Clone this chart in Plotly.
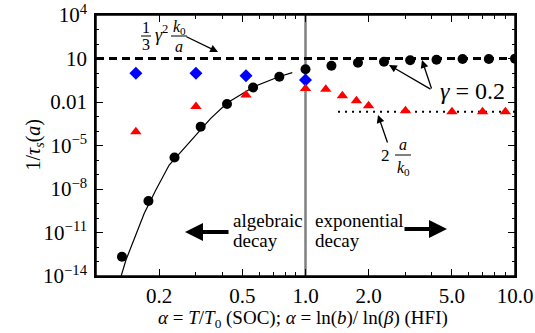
import plotly.graph_objects as go

# ---------------- data ----------------
circ_x = [0.133, 0.178, 0.237, 0.316, 0.422, 0.562, 0.75, 1.0,
          1.33, 1.78, 2.37, 3.16, 4.22, 5.62, 7.5, 10.0]
circ_y = [2.1e-13, 1.5e-9, 1.5e-6, 2.0e-4, 7.2e-3, 0.10, 0.55, 1.8,
          3.2, 5.1, 6.0, 7.6, 8.3, 9.3, 9.3, 9.8]

diam_x = [0.155, 0.30, 0.52, 1.0]
diam_y = [0.95, 0.95, 0.65, 0.33]

tri_x = [0.155, 0.30, 0.52, 1.0, 1.25, 1.5, 1.75, 2.0, 3.0, 5.0, 7.0, 9.0]
tri_y = [8.9e-5, 4.8e-3, 0.030, 0.087, 0.076, 0.027, 0.0123, 0.0055,
         0.0025, 0.0021, 0.0021, 0.0021]

fit_x = [0.1315, 0.139, 0.170, 0.193, 0.2235, 0.259, 0.353, 0.424, 0.567, 0.746, 0.865]
fit_y = [8.9e-15, 1.26e-13, 2.1e-10, 8.5e-9, 4.5e-7, 4.9e-6, 7.5e-4, 8.9e-3, 0.114, 0.55, 1.05]

upper_x = [0.1, 10.0]
upper_y = [10.0, 10.0]

lower_x = [1.43, 10.0]
lower_y = [0.0021, 0.0021]

vline_x = [1.0, 1.0]
vline_y = [1e-14, 1e4]

x_tickvals = [0.2, 0.5, 1, 2, 5, 10]
x_ticktext = ["0.2", "0.5", "1.0", "2.0", "5.0", "10.0"]
x_minor = [0.3, 0.4, 0.6, 0.7, 0.8, 0.9, 3, 4, 6, 7, 8, 9]
y_tickvals = [1e4, 10, 0.01, 1e-5, 1e-8, 1e-11, 1e-14]
y_ticktext = ["10<sup>4</sup>", "10", "0.01", "10<sup>\u22125</sup>",
              "10<sup>\u22128</sup>", "10<sup>\u221211</sup>", "10<sup>\u221214</sup>"]
y_minor = [1e3, 1e2, 1, 0.1, 1e-3, 1e-4, 1e-6, 1e-7, 1e-9, 1e-10, 1e-12, 1e-13]

FONT = "Liberation Serif"

# plot area in pixels
L, R, T, B = 96, 515, 15, 276
W, H = 535, 333


def P(px, py):
    return (px - L) / (R - L), (B - py) / (B - T)


fig = go.Figure()

fig.add_trace(go.Scatter(x=vline_x, y=vline_y, mode="lines",
                         line=dict(color="#808080", width=2.5), hoverinfo="skip"))
fig.add_trace(go.Scatter(x=upper_x, y=upper_y, mode="lines",
                         line=dict(color="black", width=3, dash="8px,5px")))
fig.add_trace(go.Scatter(x=lower_x, y=lower_y, mode="lines",
                         line=dict(color="black", width=2, dash="2px,5px")))
fig.add_trace(go.Scatter(x=fit_x, y=fit_y, mode="lines",
                         line=dict(color="black", width=1.2)))
fig.add_trace(go.Scatter(x=circ_x, y=circ_y, mode="markers",
                         marker=dict(symbol="circle", size=10, color="black")))
fig.add_trace(go.Scatter(x=diam_x, y=diam_y, mode="markers",
                         marker=dict(symbol="diamond", size=10, color="#0000ff")))
fig.add_trace(go.Scatter(x=tri_x, y=tri_y, mode="markers",
                         marker=dict(symbol="triangle-up", size=10, color="#ff0000")))

ann = []
shapes = [dict(type="rect", xref="paper", yref="paper", x0=0, x1=1, y0=0, y1=1,
               line=dict(color="black", width=1.5), layer="above")]


def text(px, py, s, size=18, xanchor="center"):
    x, y = P(px, py)
    ann.append(dict(x=x, y=y, xref="paper", yref="paper", text=s, showarrow=False,
                    xanchor=xanchor, yanchor="middle",
                    font=dict(family=FONT, size=size, color="black")))


def arrow(tail, head, width=1.3, headsize=1.2, style=2):
    x, y = P(*head)
    ann.append(dict(x=x, y=y, xref="paper", yref="paper", text="", showarrow=True,
                    ax=tail[0] - head[0], ay=tail[1] - head[1], axref="pixel", ayref="pixel",
                    arrowhead=style, arrowsize=headsize, arrowwidth=width, arrowcolor="black"))


def bar(x0, x1, py):
    a0, b0 = P(x0, py)
    a1, _ = P(x1, py)
    shapes.append(dict(type="line", xref="paper", yref="paper", x0=a0, x1=a1, y0=b0, y1=b0,
                       line=dict(color="black", width=1)))


# 1/3 gamma^2 k0/a
text(146, 27, "1", 16)
bar(141, 151, 36)
text(146, 45, "3", 16)
text(161, 34, "<i>\u03b3</i><sup>2</sup>", 18)
text(179, 27, "<i>k</i><sub>0</sub>", 16)
bar(171, 187, 36)
text(179, 46, "<i>a</i>", 16)
arrow((185, 36), (218, 52))

# gamma = 0.2
text(472, 91, "<i>\u03b3</i> = 0.2", 24)
arrow((432, 90), (389, 65))
arrow((432, 90), (422, 60))

# 2 a/k0
text(385, 155, "2", 17)
text(403, 144, "<i>a</i>", 16)
bar(395, 411, 155)
text(403, 168, "<i>k</i><sub>0</sub>", 16)
arrow((388, 144), (378, 115))

# decay labels
text(231, 220, "algebraic", 19, xanchor="left")
text(231, 240, "decay", 19, xanchor="left")
text(313, 220, "exponential", 19, xanchor="left")
text(313, 240, "decay", 19, xanchor="left")
arrow((230, 232), (185, 232), width=4, headsize=0.9, style=2)
arrow((403, 229), (447, 229), width=4, headsize=0.9, style=2)

# axis titles
text(303, 319, "<i>\u03b1</i> = <i>T</i>/<i>T</i><sub>0</sub> (SOC); <i>\u03b1</i> = ln(<i>b</i>)/ ln(<i>\u03b2</i>) (HFI)", 19)
x, y = P(19, 145)
ann.append(dict(x=x, y=y, xref="paper", yref="paper", showarrow=False, textangle=-90,
                text="1/<i>\u03c4</i><sub><i>s</i></sub>(<i>a</i>)",
                font=dict(family=FONT, size=20, color="black")))

axis_common = dict(type="log", showgrid=False, zeroline=False, showline=True,
                   linecolor="black", linewidth=1.5, ticks="inside", mirror="allticks",
                   tickcolor="black", tickwidth=1, ticklen=7, automargin=False,
                   tickfont=dict(family=FONT, size=21, color="black"))

fig.update_layout(
    template="none",
    width=W, height=H,
    margin=dict(l=L, r=W - R, t=T, b=H - B, autoexpand=False),
    paper_bgcolor="white", plot_bgcolor="white",
    font=dict(family=FONT, color="black"),
    showlegend=False,
    xaxis=dict(range=[-1, 1], tickmode="array", tickvals=x_tickvals, ticktext=x_ticktext,
               minor=dict(tickmode="array", tickvals=x_minor, ticks="inside", ticklen=4,
                          tickcolor="black"),
               **axis_common),
    yaxis=dict(range=[-14, 4], tickmode="array", tickvals=y_tickvals, ticktext=y_ticktext,
               ticklabelstandoff=3,
               minor=dict(tickmode="array", tickvals=y_minor, ticks="inside", ticklen=3,
                          tickcolor="black"),
               **axis_common),
    annotations=ann,
    shapes=shapes,
)

fig.write_html("out.html", config={"displayModeBar": False},
               post_script="document.body.style.margin='0px';")
